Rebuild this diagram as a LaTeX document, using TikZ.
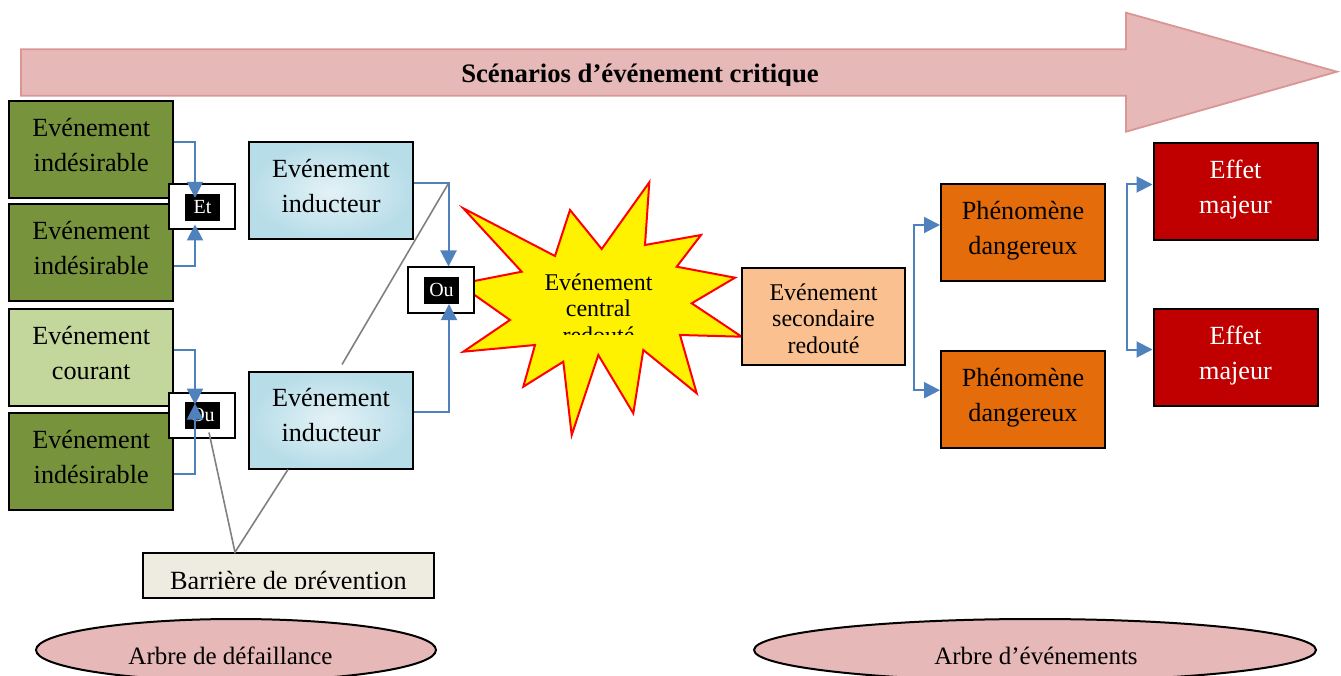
\documentclass[tikz,border=0pt]{standalone}
\usepackage{fontspec}
\setmainfont{Liberation Serif}
\usetikzlibrary{arrows.meta,shapes.geometric}

\definecolor{bandfill}{HTML}{E6B8B7}
\definecolor{bandline}{HTML}{D99694}
\definecolor{olive}{HTML}{77933C}
\definecolor{paleolive}{HTML}{C3D69B}
\definecolor{skyblue}{HTML}{B7DDE8}
\definecolor{skylight}{HTML}{E4F2F7}
\definecolor{cream}{HTML}{EEECE1}
\definecolor{peach}{HTML}{FAC090}
\definecolor{pumpkin}{HTML}{E46C0A}
\definecolor{crimson}{HTML}{C00000}
\definecolor{linkblue}{HTML}{4F81BD}
\definecolor{callgray}{HTML}{808080}

% struts that set where the lines sit inside their box
\newcommand\twoline[2]{\rule{0pt}{21.9pt}#1\\#2\rule[-13.1pt]{0pt}{13.1pt}}
\newcommand\threeline[3]{\rule{0pt}{22pt}#1\\#2\\#3\rule[-1.6pt]{0pt}{1.6pt}}

\tikzset{
  evbox/.style={draw=black, line width=2pt, minimum width=164pt, minimum height=97pt,
    inner sep=0pt, align=center, font=\fontsize{26.2pt}{35pt}\selectfont},
  secbox/.style={draw=black, line width=2pt, minimum width=163pt, minimum height=97pt,
    inner sep=0pt, align=center, font=\fontsize{24pt}{26.5pt}\selectfont},
  gatebox/.style={draw=black, line width=2pt, fill=white, minimum width=66pt,
    minimum height=45pt, inner sep=0pt},
  gatelab/.style={fill=black, text=white, minimum width=35pt, minimum height=27pt,
    inner sep=0pt, font=\fontsize{20pt}{24pt}\selectfont},
  link/.style={draw=linkblue, line width=2pt, -{Triangle[length=16pt,width=16pt]}},
  callout/.style={draw=callgray, line width=1.6pt},
  treeoval/.style={ellipse, draw=black, line width=2pt, fill=bandfill, inner sep=0pt},
  plain/.style={inner sep=0pt, anchor=base},
}

\begin{document}
\begin{tikzpicture}[x=1pt,y=-1pt]
\path[use as bounding box] (0,0) rectangle (1341,676);

% scenario band
\draw[fill=bandfill, draw=bandline, line width=1.8pt, line join=miter]
  (21,49.3) -- (1126,49.3) -- (1126,12.7) -- (1337,71.7) -- (1126,131.7)
  -- (1126,95.7) -- (21,95.7) -- cycle;
\begin{scope}
  \clip (400,40) rectangle (880,85.3);
  \node[plain, font=\bfseries\fontsize{26.7pt}{30pt}\selectfont] (title) at (640,83)
    {Scénarios d’événement critique};
\end{scope}

% initiating events
\node[evbox, fill=olive] (ei1) at (91.2,149.5) {\twoline{Evénement}{indésirable}};
\node[evbox, fill=olive] (ei2) at (91.2,253) {\twoline{Evénement}{indésirable}};
\node[evbox, fill=paleolive] (ec) at (91.2,357.8) {\twoline{Evénement}{courant}};
\node[evbox, fill=olive] (ei3) at (91.2,461.8) {\twoline{Evénement}{indésirable}};

% inducing events
\node[evbox, shading=radial, inner color=skylight, outer color=skyblue] (ind1)
  at (331,191) {\twoline{Evénement}{inducteur}};
\node[evbox, shading=radial, inner color=skylight, outer color=skyblue] (ind2)
  at (331,420) {\twoline{Evénement}{inducteur}};

% central event
\draw[fill=yellow, draw=red, line width=2pt, line join=miter]
  (463.3,208.3) -- (555,256) -- (570,210) -- (601.7,249) -- (649.3,182.3)
  -- (645,245) -- (701,235) -- (676.7,266.7) -- (735,277.7) -- (691.7,303.3)
  -- (741.7,336.7) -- (680,335) -- (696.7,393.3) -- (643.3,350) -- (633.3,413.3)
  -- (598.3,355) -- (571.7,435) -- (563.3,361.7) -- (523.3,386.7) -- (535,345)
  -- (463.3,351.7) -- (510,320) -- (459,284) -- (521.7,271.7) -- cycle;
\begin{scope}
  \clip (520,255) rectangle (680,334.5);
  \node[inner sep=0pt, align=center, font=\fontsize{24pt}{26.7pt}\selectfont]
    (centraltext) at (598.5,311.4)
    {\rule{0pt}{18.7pt}Evénement\\central\\redouté\rule[-8pt]{0pt}{8pt}};
\end{scope}

% logic gates
\node[gatebox] (etgate) at (202,207) {};
\node[gatelab] (etlab) at (202.5,207.5) {Et};
\node[gatebox] (ougate1) at (202,415) {};
\node[gatelab] (oulab1) at (202.5,415) {Ou};
\node[gatebox] (ougate2) at (441,290) {};
\node[gatelab] (oulab2) at (441.5,290.3) {Ou};

% event tree side
\node[secbox, fill=peach] (sec) at (823.5,316.3) {\threeline{Evénement}{secondaire}{redouté}};
\node[evbox, fill=pumpkin] (ph1) at (1023,232.8) {\twoline{Phénomène}{dangereux}};
\node[evbox, fill=pumpkin] (ph2) at (1023,399.2) {\twoline{Phénomène}{dangereux}};
\node[evbox, fill=crimson, text=white] (eff1) at (1235.5,191.5) {\twoline{Effet}{majeur}};
\node[evbox, fill=crimson, text=white] (eff2) at (1235.5,357.5) {\twoline{Effet}{majeur}};

% fault tree connectors
\draw[link] ([yshift=7.5pt]ei1.east) -| ([xshift=-7.5pt,yshift=-4pt]etlab.north);
\draw[link] ([yshift=-13.5pt]ei2.east) -| ([xshift=-7pt,yshift=6pt]etgate.south);
\draw[link] ([yshift=7.5pt]ec.east) -| ([xshift=-7.5pt,yshift=-3.3pt]oulab1.north);
\draw[link] ([yshift=-12.5pt]ei3.east) -| ([xshift=-7.5pt,yshift=11.5pt]oulab1.center);
\draw[link] ([yshift=7.7pt]ind1.east) -| coordinate[pos=0.5] (bend1)
  ([xshift=7.5pt]ougate2.north);
\draw[link] ([yshift=8.3pt]ind2.east) -| ([xshift=7.5pt]oulab2.south);

% event tree connectors
\coordinate (fork1) at ([xshift=7.5pt]sec.east);
\draw[link] (fork1) |- ([yshift=7.8pt]ph1.west);
\draw[link] (fork1) |- ([yshift=9pt]ph2.west);
\coordinate (fork2) at ([xshift=21pt,yshift=-83.2pt]ph1.east);
\draw[link] (fork2) |- ([yshift=7pt]eff1.west);
\draw[link] (fork2) |- ([yshift=8pt]eff2.west);

% prevention barrier and its callout lines
\node[draw=black, line width=2pt, fill=cream, minimum width=291pt, minimum height=45pt,
  inner sep=0pt] (barrier) at (288.4,575.7) {};
\begin{scope}
  \clip (140,555) rectangle (440,588.3);
  \node[plain, font=\fontsize{26.3pt}{30pt}\selectfont] (bartext) at (288.4,589.1)
    {Barrière de prévention};
\end{scope}
\coordinate (bartop) at ([xshift=-53.4pt]barrier.north);
\draw[callout] ([xshift=6.5pt,yshift=-17.5pt]oulab1.center) -- (bartop)
  -- ([xshift=-43pt]ind2.south);
\draw[callout] ([xshift=11pt,yshift=6pt]ind2.north) -- (bend1);

% tree labels
\node[treeoval, minimum width=400pt, minimum height=62pt] (fault) at (236,650) {};
\node[treeoval, minimum width=562pt, minimum height=62pt] (events) at (1035,650) {};
\begin{scope}
  \clip (0,630) rectangle (1341,665.5);
  \node[plain, font=\fontsize{25pt}{30pt}\selectfont] (faulttext) at (230.5,664.5)
    {Arbre de défaillance};
  \node[plain, font=\fontsize{25pt}{30pt}\selectfont] (eventstext) at (1036,664.5)
    {Arbre d’événements};
\end{scope}
\end{tikzpicture}
\end{document}
